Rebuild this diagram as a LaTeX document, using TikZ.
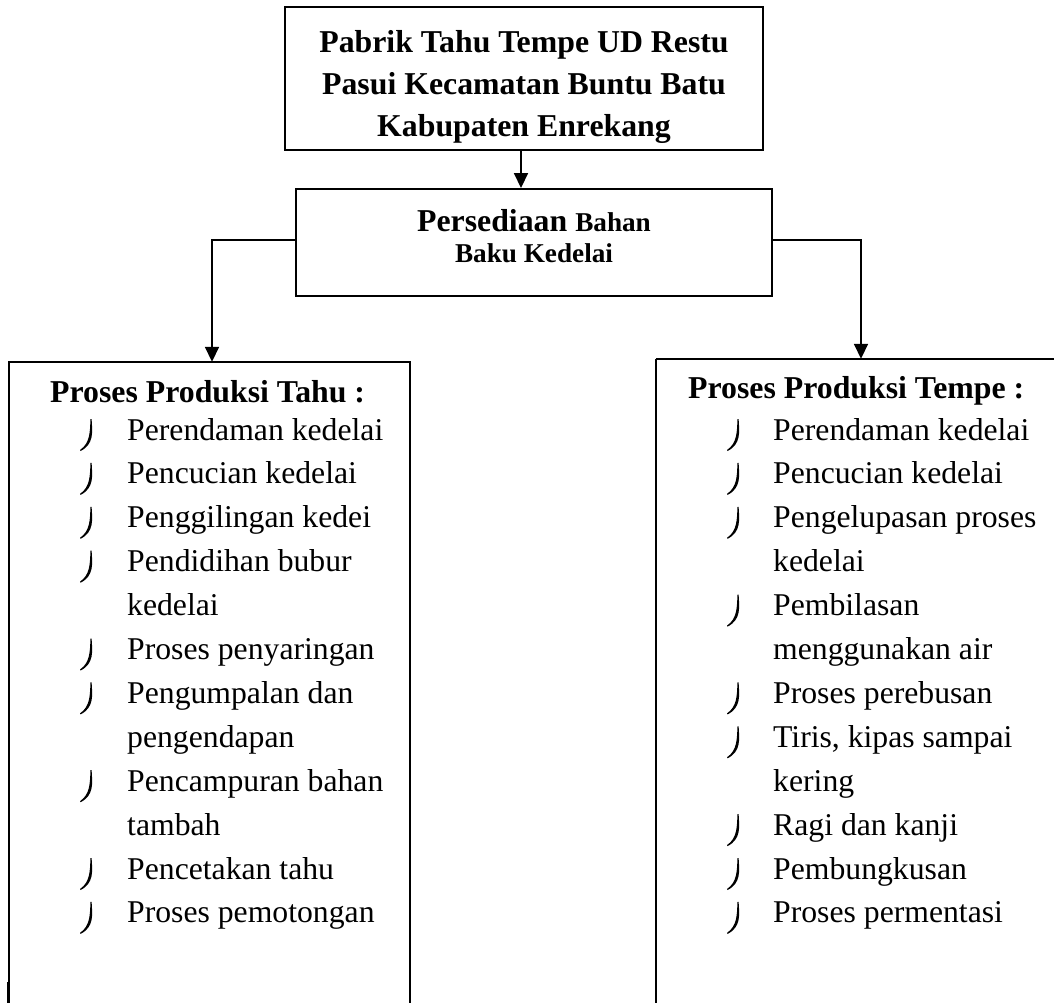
\documentclass[tikz,border=0pt]{standalone}
\usepackage{fontspec}
\setmainfont{Liberation Serif}
\usetikzlibrary{arrows.meta}
\newcommand\mybul[2]{%
  \fill ({#1+11.6},{#2-21}) .. controls ({#1+12.4},{#2-8}) and ({#1+14.2},{#2+4}) .. ({#1+0.6},{#2+11})
     -- ({#1},{#2+10}) .. controls ({#1+10.2},{#2+3}) and ({#1+9.9},{#2-8}) .. ({#1+10.5},{#2-21}) -- cycle;}
\begin{document}
\begin{tikzpicture}[x=1pt,y=-1pt,
  box/.style={draw, line width=1.9pt, inner sep=0pt},
  openbox/.style={inner sep=0pt},
  side/.style={line width=1.5pt},
  arr/.style={line width=1.7pt, -{Triangle[length=15pt,width=14pt]}},
  hd/.style={font=\fontsize{31.8}{42}\selectfont\bfseries, inner sep=0pt, anchor=base},
  sm/.style={font=\fontsize{27.2}{30}\selectfont\bfseries, inner sep=0pt, anchor=base},
  lhead/.style={font=\fontsize{31.8}{42}\selectfont\bfseries, inner sep=0pt, anchor=base west},
  item/.style={font=\fontsize{31.7}{44}\selectfont, inner sep=0pt, anchor=base west}]
\useasboundingbox (0,0) rectangle (1054,1003);
\clip (0,0) rectangle (1054,1003);
\fill[white] (0,0) rectangle (1054,1003);

% top box
\node[box, minimum width=478pt, minimum height=143pt] (top) at (524,78.5) {};
\node[hd] (t1) at (524,53) {Pabrik Tahu Tempe UD Restu};
\node[hd] (t2) at (524,95) {Pasui Kecamatan Buntu Batu};
\node[hd] (t3) at (524,137) {Kabupaten Enrekang};

% middle box
\node[box, minimum width=476pt, minimum height=107pt] (mid) at (534,242.5) {};
\node[hd] (m1) at (534,231) {Persediaan {\fontsize{27.2}{30}\selectfont Bahan}};
\node[sm] (m2) at (534,262) {Baku Kedelai};

% lower boxes (open at the bottom)
\node[openbox, minimum width=401pt, minimum height=700pt] (tahu) at (209.5,712) {};
\draw[side] (tahu.south west) -- (tahu.north west) -- (tahu.north east) -- (tahu.south east);
\node[openbox, minimum width=410pt, minimum height=700pt] (tempe) at (861,709) {};
\draw[line width=2.4pt] (tempe.south west) -- (tempe.north west);
\draw[side] (tempe.north west) -- (tempe.north east) -- (tempe.south east);
\draw[line width=1.2pt] (7.6,982) -- (7.6,1003);

% connectors
\draw[arr] ([xshift=-3pt]top.south) -- ([xshift=-3pt]top.south |- mid.north);
\draw[arr] ([yshift=2.5pt]mid.west) -| ([xshift=2.5pt]tahu.north);
\draw[arr] ([yshift=2.5pt]mid.east) -| (tempe.north);

% left list
\node[lhead] (lh) at (50,402) {Proses Produksi Tahu :};
\foreach \t/\b [count=\i from 0] in {
  Perendaman kedelai/1, Pencucian kedelai/1, Penggilingan kedei/1,
  Pendidihan bubur/1, kedelai/0, Proses penyaringan/1, Pengumpalan dan/1,
  pengendapan/0, Pencampuran bahan/1, tambah/0, Pencetakan tahu/1,
  Proses pemotongan/1}{
  \pgfmathsetmacro\yy{440+43.9*\i}
  \node[item] (L\i) at (127,\yy) {\t};
  \ifnum\b=1 \mybul{80}{\yy}\fi
}

% right list
\node[lhead] (rh) at (688,398) {Proses Produksi Tempe :};
\foreach \t/\b [count=\i from 0] in {
  Perendaman kedelai/1, Pencucian kedelai/1, Pengelupasan proses/1,
  kedelai/0, Pembilasan/1, menggunakan air/0, Proses perebusan/1,
  {Tiris, kipas sampai}/1, kering/0, Ragi dan kanji/1, Pembungkusan/1,
  Proses permentasi/1}{
  \pgfmathsetmacro\yy{440+43.9*\i}
  \node[item] (R\i) at (773,\yy) {\t};
  \ifnum\b=1 \mybul{727}{\yy}\fi
}
\end{tikzpicture}
\end{document}
